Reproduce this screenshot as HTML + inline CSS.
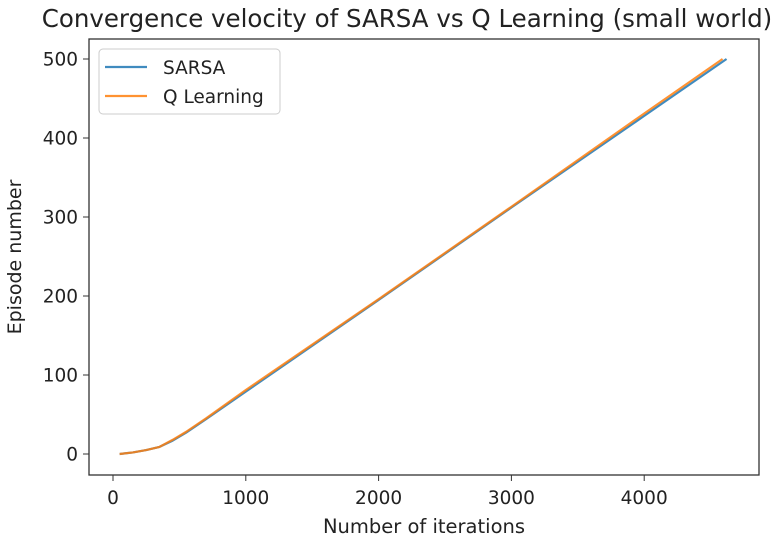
<!DOCTYPE html>
<html><head><meta charset="utf-8"><style>
body{margin:0;background:#fff;}
svg{font-family:"DejaVu Sans","Liberation Sans",sans-serif;}
</style></head><body>
<svg id="chart" width="784" height="540">
<text x="407" y="27" text-anchor="middle" font-size="24.5" fill="#222">Convergence velocity of SARSA vs Q Learning (small world)</text>
<g id="plot"></g>
<rect x="89" y="39" width="670" height="436" fill="none" stroke="#333" stroke-width="1.3"/>
<text x="424" y="533" text-anchor="middle" font-size="19.5" fill="#222">Number of iterations</text>
<text transform="translate(21,257) rotate(-90)" text-anchor="middle" font-size="19" fill="#222">Episode number</text>
<g>
<rect x="99" y="49" width="181" height="65" rx="4" fill="#fff" stroke="#ccc"/>
<line x1="105" y1="67" x2="147" y2="67" stroke="#1f77b4" stroke-width="2.2" opacity="0.85"/>
<text x="163" y="74" font-size="18.5" fill="#222">SARSA</text>
<line x1="105" y1="96" x2="147" y2="96" stroke="#ff7f0e" stroke-width="2.2" opacity="0.85"/>
<text x="163" y="103" font-size="18.5" fill="#222">Q Learning</text>
</g>
</svg>
<script>
const xTicks=[0,1000,2000,3000,4000];
const yTicks=[0,100,200,300,400,500];
const sarsaX=[50,150,250,350,450,550,700,1000,2000,3000,4000,4620];
const sarsaY=[0,2,5,9,17,27,44,79,195,312,428,500];
const qX=[50,150,250,350,450,550,700,1000,2000,3000,4000,4590];
const qY=[0,2,5,9,18,28,45,81,196,313,431,500];
const X=v=>113+v*0.1328, Y=v=>454-v*0.79;
const ns="http://www.w3.org/2000/svg", g=document.getElementById('plot');
function mk(t,a){const e=document.createElementNS(ns,t);for(const k in a)e.setAttribute(k,a[k]);g.appendChild(e);return e;}
xTicks.forEach(v=>{
 const l=mk('line',{x1:X(v),x2:X(v),y1:475,y2:481,stroke:'#333'});
 
 
 const t=mk('text',{x:X(v),y:504,'text-anchor':'middle','font-size':18.5,fill:'#222'});t.textContent=v;
 
 
});
yTicks.forEach(v=>{
 const l=mk('line',{x1:83,x2:89,y1:Y(v),y2:Y(v),stroke:'#333'});
 
 
 const t=mk('text',{x:78,y:Y(v)+6.5,'text-anchor':'end','font-size':18.5,fill:'#222'});t.textContent=v;
 
 
});
function line(xs,ys,c,name){
 const p=mk('polyline',{points:xs.map((x,i)=>X(x)+','+Y(ys[i])).join(' '),fill:'none',stroke:c,'stroke-width':2.2,opacity:0.85,'stroke-linejoin':'round'});
 
 
}
line(sarsaX,sarsaY,'#1f77b4','sarsa-line');
line(qX,qY,'#ff7f0e','q-learning-line');
</script>
</body></html>
